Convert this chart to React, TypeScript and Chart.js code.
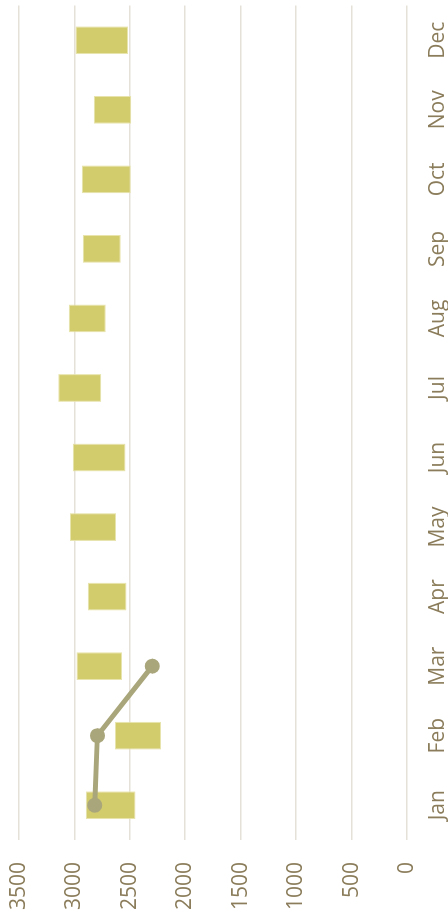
import React, { useEffect, useRef } from "react";
import { Chart, registerables } from "chart.js";

Chart.register(...registerables);

const months = ["Jan", "Feb", "Mar", "Apr", "May", "Jun", "Jul", "Aug", "Sep", "Oct", "Nov", "Dec"];
const rangeLow = [2450, 2220, 2570, 2530, 2625, 2540, 2757, 2718, 2583, 2493, 2487, 2517];
const rangeHigh = [2898, 2634, 2982, 2880, 3039, 3015, 3147, 3051, 2925, 2934, 2826, 2991];
const lineValues = [2817, 2793, 2298];
const valueMin = 0;
const valueMax = 3500;
const valueStep = 500;

const CANVAS_W = 922;
const CANVAS_H = 448;

export default function App() {
  const ref = useRef<HTMLCanvasElement | null>(null);

  useEffect(() => {
    if (!ref.current) return;
    const textColor = "#8b7d5b";
    const font = { family: "'Open Sans'", size: 21 };
    const chart = new Chart(ref.current, {
      type: "bar",
      data: {
        labels: months,
        datasets: [
          {
            type: "line",
            data: lineValues,
            borderColor: "#a9a67b",
            backgroundColor: "#a9a67b",
            borderWidth: 5,
            pointRadius: 7.5,
            pointBorderWidth: 0,
            pointBackgroundColor: "#a9a67b",
            tension: 0,
            order: 0,
          } as any,
          {
            type: "bar",
            data: rangeLow.map((lo, i) => [lo, rangeHigh[i]]),
            backgroundColor: "#d3cc6d",
            borderColor: "#e8e4ad",
            borderWidth: 1,
            borderSkipped: false,
            barPercentage: 0.4,
            categoryPercentage: 1,
            order: 1,
          } as any,
        ],
      },
      options: {
        responsive: false,
        animation: false,
        layout: { padding: { top: 19, right: 0, bottom: 0, left: 0 } },
        plugins: { legend: { display: false }, tooltip: { enabled: false } },
        scales: {
          x: {
            grid: { display: true, color: "rgba(0,0,0,0)", drawTicks: true, tickLength: 18, tickColor: "rgba(0,0,0,0)" },
            border: { display: false },
            ticks: { color: textColor, font, padding: 0, maxRotation: 0, minRotation: 0 },
            afterFit: (s: any) => {
              s.height = 41;
            },
          },
          y: {
            min: valueMin,
            max: valueMax,
            grid: { color: "#e5e1d8", lineWidth: 1.6, drawTicks: true, tickLength: 22, tickColor: "rgba(0,0,0,0)" },
            border: { display: false },
            ticks: {
              stepSize: valueStep,
              color: textColor,
              font,
              padding: 0,
              callback: (v: any) => String(v),
            },
            afterFit: (s: any) => {
              s.width = 80;
            },
          },
        },
      },
    });
    return () => chart.destroy();
  }, []);

  return (
    <div
      style={{
        position: "fixed",
        left: 0,
        top: 0,
        width: 448,
        height: 920,
        overflow: "hidden",
        background: "#ffffff",
      }}
    >
      <div
        style={{
          position: "absolute",
          left: 0,
          top: 0,
          width: CANVAS_W,
          height: CANVAS_H,
          transformOrigin: "0 0",
          transform: "translate(0px, 920px) rotate(-90deg)",
        }}
      >
        <canvas ref={ref} width={CANVAS_W} height={CANVAS_H} style={{ width: CANVAS_W, height: CANVAS_H, display: "block" }} />
      </div>
    </div>
  );
}
